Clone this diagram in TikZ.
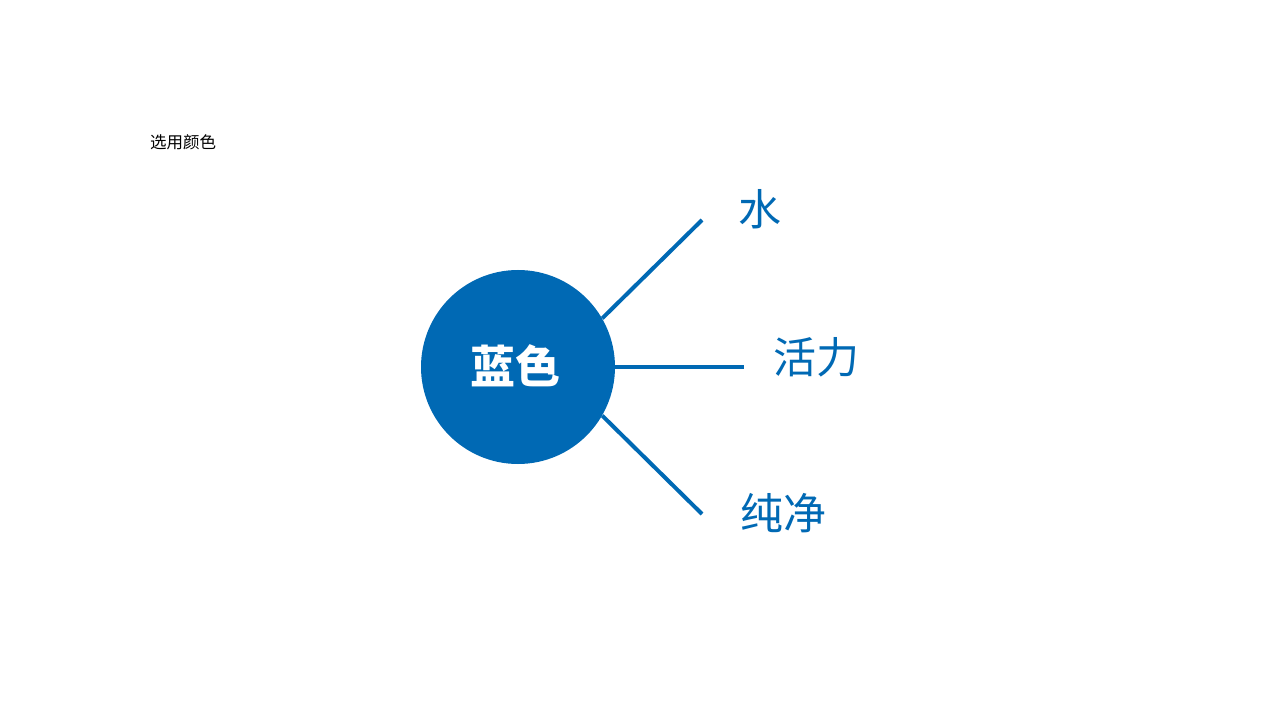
\documentclass[tikz,border=0pt]{standalone}
\usepackage{fontspec}
\newfontfamily\cjk{Noto Sans CJK SC}
\definecolor{mainblue}{HTML}{0069B4}
\begin{document}
\begin{tikzpicture}[x=1pt,y=-1pt,
  branch/.style={draw=mainblue,line width=4pt,line cap=butt},
  leaf/.style={inner sep=0pt,text=mainblue,font=\cjk\fontsize{43}{50}\selectfont}]
\useasboundingbox[fill=white] (0,0) rectangle (1280,727);
\node[inner sep=0pt,anchor=center,font=\cjk\fontsize{16.5}{20}\selectfont] (title) at (183,142) {选用颜色};
\node[circle,fill=mainblue,minimum size=194pt,inner sep=0pt] (c) at (518,367) {};
\node[inner sep=0pt,text=white,font=\cjk\bfseries\fontsize{45}{52}\selectfont] (clabel) at (515,366) {蓝色};
\coordinate (e1) at (702,220);
\coordinate (e2) at (744,367);
\coordinate (e3) at (702,514);
\draw[branch] (c.30) -- (e1);
\draw[branch] (c.0) -- (e2);
\draw[branch] (c.-30) -- (e3);
\node[leaf] (w) at (760,209) {水};
\node[leaf] (h) at (816,357) {活力};
\node[leaf] (p) at (783,513) {纯净};
\end{tikzpicture}
\end{document}
